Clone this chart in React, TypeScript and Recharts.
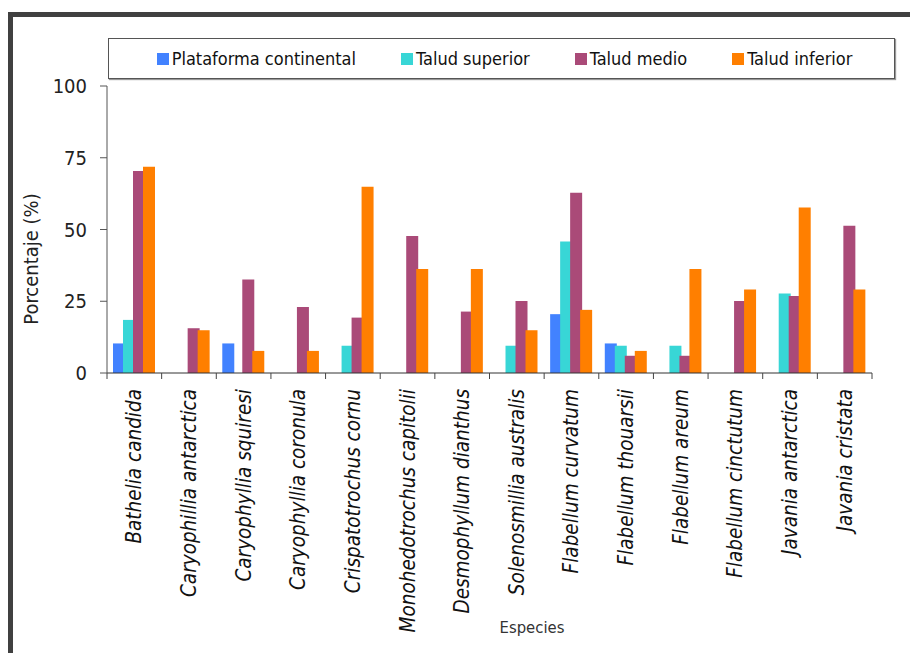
import React from 'react';
import { BarChart, Bar, XAxis, YAxis, Legend, Label } from 'recharts';

const especies = [
	'Bathelia candida',
	'Caryophillia antarctica',
	'Caryophyllia squiresi',
	'Caryophyllia coronula',
	'Crispatotrochus cornu',
	'Monohedotrochus capitolii',
	'Desmophyllum dianthus',
	'Solenosmillia australis',
	'Flabellum curvatum',
	'Flabellum thouarsii',
	'Flabellum areum',
	'Flabellum cinctutum',
	'Javania antarctica',
	'Javania cristata',
];

const plataforma = [10.3, null, 10.3, null, null, null, null, null, 20.5, 10.3, null, null, null, null];
const taludSuperior = [18.5, null, null, null, 9.5, null, null, 9.5, 45.8, 9.5, 9.5, null, 27.7, null];
const taludMedio = [70.4, 15.6, 32.6, 23.0, 19.3, 47.7, 21.4, 25.1, 62.8, 6.0, 6.0, 25.1, 26.8, 51.3];
const taludInferior = [71.9, 14.9, 7.7, 7.7, 64.9, 36.2, 36.2, 14.9, 22.0, 7.7, 36.2, 29.1, 57.7, 29.1];

const yTicks = [0, 25, 50, 75, 100];

const series = [
	{ key: 'plataforma', name: 'Plataforma continental', color: '#4282FF' },
	{ key: 'superior', name: 'Talud superior', color: '#38D6D6' },
	{ key: 'medio', name: 'Talud medio', color: '#AA4A78' },
	{ key: 'inferior', name: 'Talud inferior', color: '#FF7F00' },
];

const data = especies.map((name, i) => ({
	name,
	plataforma: plataforma[i],
	superior: taludSuperior[i],
	medio: taludMedio[i],
	inferior: taludInferior[i],
}));

const FONT = '"DejaVu Sans Condensed", "DejaVu Sans", sans-serif';
const W = 910;
const H = 653;
const LEFT = 107;
const RIGHT = 38;
const band = (W - LEFT - RIGHT) / especies.length;

// rotated italic species names plus tick marks on the category borders
const SpeciesTick = (props: any) => {
	const { x, y, payload, index } = props;
	const left = x - band / 2;
	const tx = x + 7;
	const ty = y + 16;
	return (
		<g>
			<line x1={left} y1={y} x2={left} y2={y + 6} stroke='#444' />
			{index === especies.length - 1 && (
				<line x1={x + band / 2} y1={y} x2={x + band / 2} y2={y + 6} stroke='#444' />
			)}
			<text
				x={tx}
				y={ty}
				transform={`rotate(-90 ${tx} ${ty})`}
				textAnchor='end'
				fontFamily={FONT}
				fontStyle='italic'
				fontSize={20.5}
				fill='#111'
			>
				{payload.value}
			</text>
		</g>
	);
};

const LegendBox = (props: any) => {
	const { payload } = props;
	// keep the series order instead of the legend's default sorting
	const items = series.map((s) => payload.find((p: any) => p.value === s.name) || { value: s.name, color: s.color });
	return (
		<div
			style={{
				boxSizing: 'border-box',
				width: '100%',
				height: 41,
				border: '1px solid #555',
				boxShadow: '1px 1px 1px #999',
				background: '#fff',
				display: 'flex',
				alignItems: 'center',
				justifyContent: 'center',
				gap: 45,
				paddingLeft: 6,
				fontFamily: FONT,
				fontSize: 18,
				color: '#111',
			}}
		>
			{items.map((p: any) => (
				<div key={p.value} style={{ display: 'flex', alignItems: 'center' }}>
					<span
						style={{
							display: 'inline-block',
							width: 12,
							height: 12,
							background: p.color,
							marginRight: 3,
						}}
					/>
					<span>{p.value}</span>
				</div>
			))}
		</div>
	);
};

export default function App() {
	return (
		<div
			style={{
				position: 'absolute',
				left: 0,
				top: 0,
				width: W,
				height: H,
				overflow: 'hidden',
				background: '#fff',
			}}
		>
			<div
				style={{
					position: 'absolute',
					left: 8,
					top: 12,
					width: W + 20,
					height: H + 20,
					border: '5px solid #404040',
					borderRightWidth: 0,
					borderBottomWidth: 0,
				}}
			/>
			<BarChart
				width={W}
				height={H}
				data={data}
				margin={{ top: 86, right: RIGHT, left: 0, bottom: 0 }}
				barSize={12}
				barGap={-2}
			>
				<XAxis
					dataKey='name'
					interval={0}
					height={280}
					tickLine={false}
					tickSize={0}
					tickMargin={0}
					stroke='#333'
					tick={<SpeciesTick />}
				>
					<Label
						content={() => (
							<text
								x={532}
								y={633}
								textAnchor='middle'
								fontFamily={FONT}
								fontSize={16.5}
								fill='#333'
							>
								Especies
							</text>
						)}
					/>
				</XAxis>
				<YAxis
					width={LEFT}
					domain={[0, 100]}
					ticks={yTicks}
					tickSize={7}
					tickMargin={13}
					stroke='#555'
					tick={{ fontFamily: FONT, fontSize: 20, fill: '#222' }}
				>
					<Label
						content={() => (
							<text
								x={38}
								y={259}
								transform='rotate(-90 38 259)'
								textAnchor='middle'
								fontFamily={FONT}
								fontSize={20}
								fill='#222'
							>
								Porcentaje (%)
							</text>
						)}
					/>
				</YAxis>
				<Legend
					layout='horizontal'
					verticalAlign='middle'
					align='center'
					wrapperStyle={{ top: 38, left: 108, width: 787 }}
					content={<LegendBox />}
				/>
				{series.map((s) => (
					<Bar key={s.key} dataKey={s.key} name={s.name} fill={s.color} isAnimationActive={false} />
				))}
			</BarChart>
		</div>
	);
}
